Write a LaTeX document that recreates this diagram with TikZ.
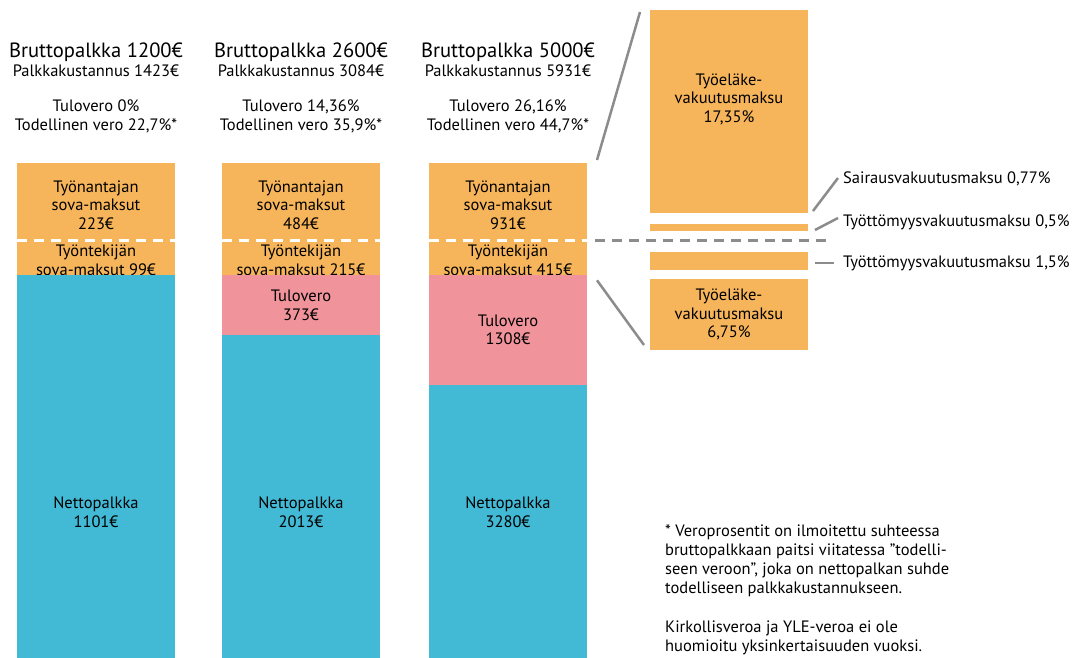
\documentclass[tikz,border=0pt]{standalone}
\usepackage{fontspec}
\setmainfont{PT Sans}
\definecolor{oranssi}{HTML}{F7B55B}
\definecolor{pinkki}{HTML}{F0939B}
\definecolor{sininen}{HTML}{42BAD6}
\definecolor{harmaa}{HTML}{8C8C8C}

\tikzstyle{osa} = [rectangle, anchor=north west, inner sep=0pt, outer sep=0pt, minimum width=158pt, align=center, font=\fontsize{16.5}{18.5}\selectfont]
\tikzstyle{otsikko} = [anchor=base, inner sep=0pt, font=\fontsize{20.6}{24}\selectfont]
\tikzstyle{teksti} = [anchor=base, inner sep=0pt, font=\fontsize{16.5}{19}\selectfont]
\tikzstyle{keski} = [inner sep=0pt, align=center, font=\fontsize{16.5}{18.5}\selectfont]
\tikzstyle{viiva} = [harmaa, line width=2.5pt]
\tikzstyle{katko} = [line width=2.5pt, dash pattern=on 10pt off 7pt]

\begin{document}
\begin{tikzpicture}[x=1pt, y=-1pt]
\useasboundingbox (0,0) rectangle (1072,658);
\node[otsikko] (bp1) at (96,58) {Bruttopalkka 1200€};
\node[teksti] (pk1) at (96,77) {Palkkakustannus 1423€};
\node[teksti] (tv1) at (96,112) {Tulovero 0\%};
\node[teksti] (tod1) at (96,131) {Todellinen vero 22,7\%*};
\node[otsikko] (bp2) at (301,58) {Bruttopalkka 2600€};
\node[teksti] (pk2) at (301,77) {Palkkakustannus 3084€};
\node[teksti] (tv2) at (301,112) {Tulovero 14,36\%};
\node[teksti] (tod2) at (301,131) {Todellinen vero 35,9\%*};
\node[otsikko] (bp3) at (508,58) {Bruttopalkka 5000€};
\node[teksti] (pk3) at (508,77) {Palkkakustannus 5931€};
\node[teksti] (tv3) at (508,112) {Tulovero 26,16\%};
\node[teksti] (tod3) at (508,131) {Todellinen vero 44,7\%*};

\node[osa, fill=oranssi, minimum height=77.6pt] (ea1) at (17,163) {};
\node[keski, yshift=-3pt] at (ea1) {Työnantajan\\sova-maksut\\223€};
\node[osa, fill=oranssi, minimum height=34.4pt] (ee1) at (ea1.south west) {};
\node[keski, yshift=-2.5pt] at (ee1) {Työntekijän\\sova-maksut 99€};
\node[osa, fill=sininen, minimum height=383pt] (net1) at (ee1.south west) {};
\node[keski] at (96,512) {Nettopalkka\\1101€};

\node[osa, fill=oranssi, minimum height=77.7pt] (ea2) at (222,163) {};
\node[keski, yshift=-3pt] at (ea2) {Työnantajan\\sova-maksut\\484€};
\node[osa, fill=oranssi, minimum height=34.5pt] (ee2) at (ea2.south west) {};
\node[keski, yshift=-2.5pt] at (ee2) {Työntekijän\\sova-maksut 215€};
\node[osa, fill=pinkki, minimum height=59.9pt] (tax2) at (ee2.south west) {Tulovero\\373€};
\node[osa, fill=sininen, minimum height=323pt] (net2) at (tax2.south west) {};
\node[keski] at (301,512) {Nettopalkka\\2013€};

\node[osa, fill=oranssi, minimum height=77.7pt] (ea3) at (429,163) {};
\node[keski, yshift=-3pt] at (ea3) {Työnantajan\\sova-maksut\\931€};
\node[osa, fill=oranssi, minimum height=34.6pt] (ee3) at (ea3.south west) {};
\node[keski, yshift=-2.5pt] at (ee3) {Työntekijän\\sova-maksut 415€};
\node[osa, fill=pinkki, minimum height=109.2pt] (tax3) at (ee3.south west) {Tulovero\\1308€};
\node[osa, fill=sininen, minimum height=273.5pt] (net3) at (tax3.south west) {};
\node[keski] at (508,512) {Nettopalkka\\3280€};

\draw[katko, white] (ea1.south west) -- (ea1.south east);
\draw[katko, white] (ea2.south west) -- (ea2.south east);
\draw[katko, white] (ea3.south west) -- (ea3.south east);

\node[osa, fill=oranssi, minimum height=203pt] (te1) at (650,10) {};
\node[keski] at (729,99) {Työeläke-\\vakuutusmaksu\\17,35\%};
\node[osa, fill=oranssi, minimum height=7pt] (tt1) at (650,224) {};
\node[osa, fill=oranssi, minimum height=18pt] (tt2) at (650,252) {};
\node[osa, fill=oranssi, minimum height=71pt] (te2) at (650,279) {Työeläke-\\vakuutusmaksu\\6,75\%};

\node[teksti, anchor=west] (sv) at (843,179) {Sairausvakuutusmaksu 0,77\%};
\node[teksti, anchor=west] (tvm1) at (843,222) {Työttömyysvakuutusmaksu 0,5\%};
\node[teksti, anchor=west] (tvm2) at (843,263) {Työttömyysvakuutusmaksu 1,5\%};

\draw[katko, harmaa] ([xshift=8pt]ea3.south east) -- ([xshift=24pt]tt1.east |- ea3.south east);
\draw[viiva] ([shift={(10,-3)}]ea3.north east) -- ([shift={(-10,2)}]te1.north west);
\draw[viiva] ([shift={(10,5)}]ee3.south east) -- ([shift={(-6,-5)}]te2.south west);
\draw[viiva] ([shift={(5,-2)}]te1.south east) -- ([shift={(-5,-1)}]sv.west);
\draw[viiva] ([shift={(7,-1)}]tt1.south east) -- ([shift={(-5,-4)}]tvm1.west);
\draw[viiva] ([shift={(7,2)}]tt2.east) -- ([shift={(-9,0)}]tvm2.west);

\node[anchor=north west, inner sep=0pt, align=left, font=\fontsize{16.5}{19.3}\selectfont] (huom) at (665,524) {* Veroprosentit on ilmoitettu suhteessa\\bruttopalkkaan paitsi viitatessa ”todelli-\\seen veroon”, joka on nettopalkan suhde\\todelliseen palkkakustannukseen.\\[19.3pt]Kirkollisveroa ja YLE-veroa ei ole\\huomioitu yksinkertaisuuden vuoksi.};
\end{tikzpicture}
\end{document}
